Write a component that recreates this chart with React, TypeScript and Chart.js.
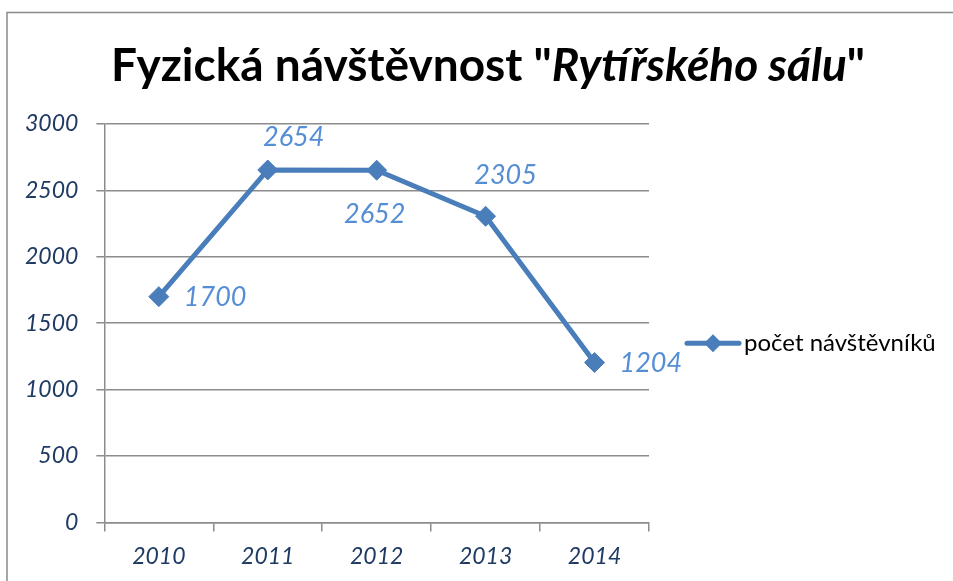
import React, { useEffect, useRef } from 'react';
import { Chart, registerables } from 'chart.js';

Chart.register(...registerables);

// ---- data ----
const categories = ['2010', '2011', '2012', '2013', '2014'];
const visitors = [1700, 2654, 2652, 2305, 1204];
const seriesName = 'počet návštěvníků';
const yMin = 0;
const yMax = 3000;
const yStep = 500;
const titleParts = [
  { text: 'Fyzická návštěvnost "', italic: false },
  { text: 'Rytířského sálu', italic: true },
  { text: '"', italic: false },
];
// data label placement relative to its point: [align, dx, dy]
const labelPlacement: [CanvasTextAlign, number, number][] = [
  ['left', 25, 1],
  ['center', 26, -33],
  ['center', -2, 44],
  ['center', 20, -41],
  ['left', 25, 1],
];

// ---- styles ----
const FONT = 'Lato, Calibri, "Open Sans", sans-serif';
const lineColor = '#4A7EBB';
const labelColor = '#558ED5';
const tickColor = '#1F3A63';
const gridColor = '#8C8C8C';

export default function App() {
  const ref = useRef<HTMLCanvasElement | null>(null);

  useEffect(() => {
    if (!ref.current) return;

    const framePlugin = {
      id: 'frame',
      beforeDraw(chart: any) {
        const ctx = chart.ctx;
        ctx.save();
        ctx.strokeStyle = '#8A8A8A';
        ctx.lineWidth = 1.5;
        ctx.beginPath();
        ctx.moveTo(7, chart.height);
        ctx.lineTo(7, 12.5);
        ctx.lineTo(chart.width, 12.5);
        ctx.stroke();
        ctx.restore();
      },
    };

    const titlePlugin = {
      id: 'mixedTitle',
      afterDraw(chart: any) {
        const ctx = chart.ctx;
        ctx.save();
        ctx.fillStyle = '#000';
        ctx.textBaseline = 'alphabetic';
        ctx.textAlign = 'left';
        const fontFor = (it: boolean) => `${it ? 'italic ' : ''}bold 46px ${FONT}`;
        let total = 0;
        const widths = titleParts.map((p) => {
          ctx.font = fontFor(p.italic);
          const w = ctx.measureText(p.text).width;
          total += w;
          return w;
        });
        let x = 488 - total / 2;
        titleParts.forEach((p, i) => {
          ctx.font = fontFor(p.italic);
          ctx.fillText(p.text, x, 81);
          x += widths[i];
        });
        ctx.restore();
      },
    };

    const legendPlugin = {
      id: 'sideLegend',
      afterDraw(chart: any) {
        const ctx = chart.ctx;
        const area = chart.chartArea;
        const ds = chart.data.datasets[0];
        const x0 = area.right + 36;
        const y = (area.top + area.bottom) / 2 + 20;
        ctx.save();
        ctx.strokeStyle = ds.borderColor;
        ctx.lineWidth = 5;
        ctx.lineCap = 'round';
        ctx.beginPath();
        ctx.moveTo(x0 + 2, y);
        ctx.lineTo(x0 + 54, y);
        ctx.stroke();
        ctx.fillStyle = ds.borderColor;
        ctx.beginPath();
        ctx.moveTo(x0 + 28, y - 9);
        ctx.lineTo(x0 + 37, y);
        ctx.lineTo(x0 + 28, y + 9);
        ctx.lineTo(x0 + 19, y);
        ctx.closePath();
        ctx.fill();
        ctx.fillStyle = '#000';
        ctx.font = `24px ${FONT}`;
        ctx.textAlign = 'left';
        ctx.textBaseline = 'middle';
        ctx.fillText(ds.label, x0 + 59, y);
        ctx.restore();
      },
    };

    const dataLabelPlugin = {
      id: 'dataLabels',
      afterDatasetsDraw(chart: any) {
        const ctx = chart.ctx;
        const meta = chart.getDatasetMeta(0);
        const values = chart.data.datasets[0].data;
        ctx.save();
        ctx.font = `italic 27px ${FONT}`;
        ctx.fillStyle = labelColor;
        ctx.textBaseline = 'middle';
        meta.data.forEach((pt: any, i: number) => {
          const [align, dx, dy] = labelPlacement[i];
          ctx.textAlign = align;
          ctx.fillText(String(values[i]), pt.x + dx, pt.y + dy);
        });
        ctx.restore();
      },
    };

    const chart = new Chart(ref.current, {
      type: 'line',
      data: {
        labels: categories,
        datasets: [
          {
            label: seriesName,
            data: visitors,
            borderColor: lineColor,
            backgroundColor: lineColor,
            borderWidth: 5,
            pointStyle: 'rectRot',
            pointRadius: 10,
            pointBorderWidth: 1,
            pointBackgroundColor: lineColor,
            pointBorderColor: lineColor,
            tension: 0,
          },
        ],
      },
      options: {
        animation: false,
        responsive: false,
        layout: { padding: { top: 124, left: 7, bottom: 0, right: 304 } },
        plugins: {
          title: { display: false },
          tooltip: { enabled: false },
          legend: { display: false },
        },
        scales: {
          x: {
            type: 'category',
            offset: true,
            grid: {
              offset: true,
              drawOnChartArea: false,
              drawTicks: true,
              tickLength: 9,
              color: gridColor,
              lineWidth: 1.5,
            },
            border: { color: gridColor, width: 1.5 },
            ticks: {
              color: tickColor,
              padding: 11,
              font: { family: FONT, size: 23, style: 'italic' },
            },
          },
          y: {
            min: yMin,
            max: yMax,
            grid: {
              color: gridColor,
              lineWidth: 1.5,
              drawTicks: true,
              tickLength: 8,
            },
            border: { color: gridColor, width: 1.5 },
            ticks: {
              stepSize: yStep,
              color: tickColor,
              padding: 18,
              font: { family: FONT, size: 23, style: 'italic' },
              callback: (v: any) => String(v),
            },
          },
        },
      },
      plugins: [framePlugin, titlePlugin, dataLabelPlugin, legendPlugin],
    });

    return () => chart.destroy();
  }, []);

  return (
    <div style={{ position: 'absolute', left: 0, top: 0, width: 953, height: 581, background: '#fff' }}>
      <canvas ref={ref} width={953} height={581} />
    </div>
  );
}
